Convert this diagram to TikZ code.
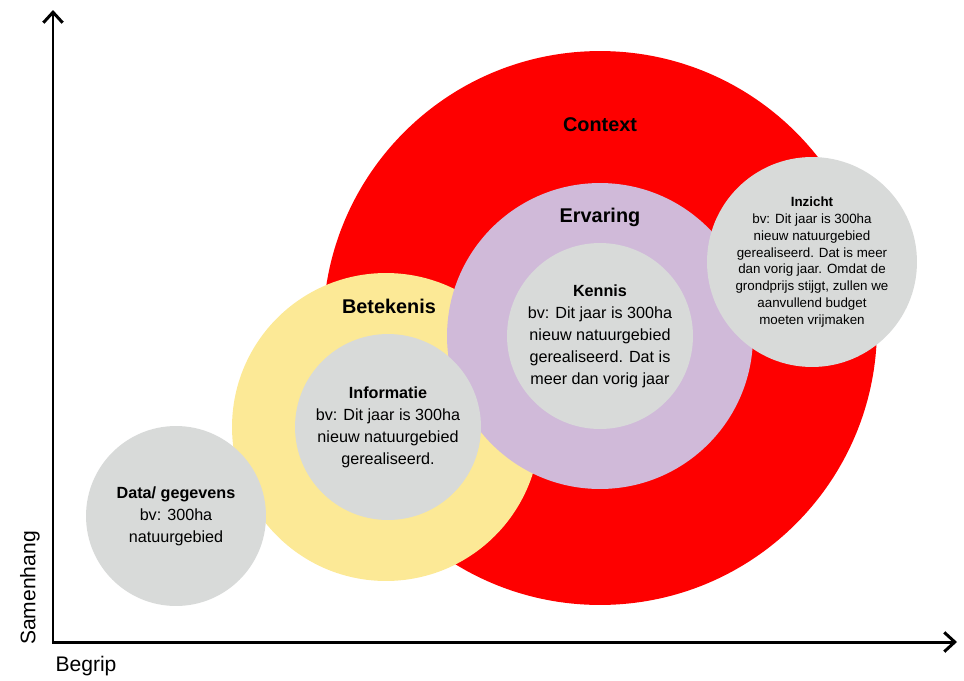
\documentclass[tikz,border=0pt]{standalone}
\usepackage{fontspec}
\setmainfont{Liberation Sans}
\usetikzlibrary{arrows.meta}

\definecolor{ctxred}{HTML}{FE0000}
\definecolor{betyellow}{HTML}{FCE996}
\definecolor{ervpurple}{HTML}{D0BAD9}
\definecolor{bubblegray}{HTML}{D8DAD9}

\begin{document}
\begin{tikzpicture}[x=0.02cm, y=-0.02cm,
  bubble/.style={circle, inner sep=0pt, minimum size=#1, align=center},
  body/.style={font=\fontsize{9.2}{12.5}\selectfont},
  smallbody/.style={font=\fontsize{7.6}{9.6}\selectfont},
  ringlabel/.style={font=\fontsize{11.3}{13}\selectfont\bfseries},
  axislabel/.style={font=\fontsize{12}{14}\selectfont},
  axis/.style={line width=1.7pt, {Straight Barb[length=6pt, width=11pt]}-{Straight Barb[length=6pt, width=11pt]}}]

\useasboundingbox (0, 0) rectangle (964, 680);

\node[bubble=11.08cm, fill=ctxred]    (context)   at (600, 328) {};
\node[bubble=6.16cm,  fill=betyellow] (betekenis) at (386, 427) {};
\node[bubble=6.12cm,  fill=ervpurple] (ervaring)  at (600, 336) {};

\node[bubble=3.72cm, fill=bubblegray, body] (informatie) at (388, 427)
  {\textbf{Informatie}\\bv: Dit jaar is 300ha\\nieuw natuurgebied\\gerealiseerd.};
\node[bubble=3.72cm, fill=bubblegray, body] (kennis) at (600, 336)
  {\textbf{Kennis}\\bv: Dit jaar is 300ha\\nieuw natuurgebied\\gerealiseerd. Dat is\\meer dan vorig jaar};
\node[bubble=4.2cm, fill=bubblegray, smallbody] (inzicht) at (812, 262)
  {\textbf{Inzicht}\\bv: Dit jaar is 300ha\\nieuw natuurgebied\\gerealiseerd. Dat is meer\\dan vorig jaar. Omdat de\\grondprijs stijgt, zullen we\\aanvullend budget\\moeten vrijmaken};
\node[bubble=3.6cm, fill=bubblegray, body] (data) at (176, 516)
  {\textbf{Data/ gegevens}\\bv: 300ha\\natuurgebied};

\node[ringlabel] (contextlabel)   at (600, 125) {Context};
\node[ringlabel] (ervaringlabel)  at (600, 217) {Ervaring};
\node[ringlabel] (betekenislabel) at (389, 306) {Betekenis};

\coordinate (ytop)   at ( 53,  10);
\coordinate (origin) at ( 53, 642);
\coordinate (xend)   at (957, 642);
\draw[axis] (ytop) -- (origin) -- (xend);

\node[axislabel]              (begrip)    at ( 86, 666) {Begrip};
\node[axislabel, rotate=90]   (samenhang) at ( 30, 588) {Samenhang};

\end{tikzpicture}
\end{document}
